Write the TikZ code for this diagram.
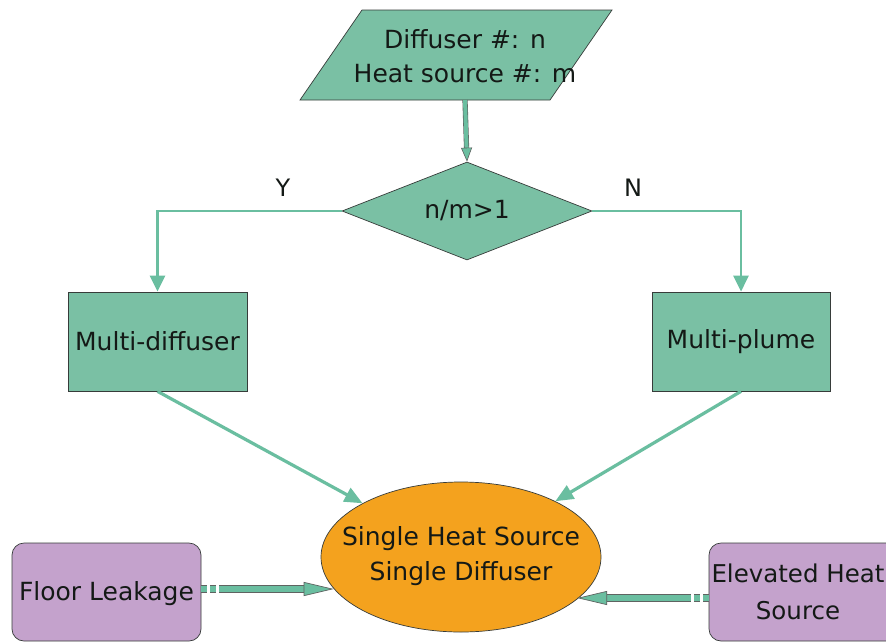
\documentclass[tikz,border=0pt]{standalone}
\usepackage{fontspec}
\setmainfont{DejaVu Sans}
\usetikzlibrary{shapes.geometric,arrows.meta}
\definecolor{boxteal}{RGB}{122,192,164}
\definecolor{linkteal}{RGB}{106,190,160}
\definecolor{boxpurple}{RGB}{196,162,204}
\definecolor{boxorange}{RGB}{244,162,30}
\definecolor{edgec}{RGB}{55,60,58}
\definecolor{txt}{RGB}{20,25,22}
\begin{document}
\begin{tikzpicture}[x=1pt,y=-1pt,
  tealshape/.style={fill=boxteal, draw=edgec, line width=0.7pt},
  lbl/.style={text=txt, font=\fontsize{25}{34}\selectfont, align=center, inner sep=0pt},
  rectbox/.style={tealshape, minimum width=179pt, minimum height=99pt, inner sep=0pt, text=txt, font=\fontsize{25}{34}\selectfont},
  purplebox/.style={fill=boxpurple, draw=edgec, line width=0.7pt, rounded corners=12pt, minimum width=189pt, minimum height=98pt, inner sep=0pt},
  link/.style={draw=linkteal, line width=2.8pt, -{Triangle[length=16pt,width=15pt]}},
  duct/.style={draw=edgec!80, line width=0.6pt, double=linkteal, double distance=4pt, -{Triangle[length=14pt,width=11pt,fill=linkteal]}},
  fat/.style={draw=edgec!80, line width=0.7pt, double=linkteal, double distance=6pt},
  fatdash/.style={fat, dash pattern=on 6pt off 3pt},
  fattip/.style={fat, -{Triangle[length=30pt,width=14pt,fill=linkteal]}}
]
\clip (0,0) rectangle (886,643);
\fill[white] (0,0) rectangle (886,643);

% input parallelogram
\draw[tealshape] (362,10) -- (612,10) -- (550,100) -- (300,100) -- cycle;
\node[lbl] (inp) at (465,56) {Diffuser \#: n\\Heat source \#: m};
\coordinate (inpb) at (465,100);

% decision
\node[diamond, aspect=2.5, tealshape, minimum width=250pt, minimum height=98pt, inner sep=0pt, text=txt, font=\fontsize{25}{34}\selectfont] (dec) at (467,211) {n/m>1};

\node[lbl, font=\fontsize{24}{30}\selectfont] (ylab) at (283,188) {Y};
\node[lbl, font=\fontsize{24}{30}\selectfont] (nlab) at (633,188) {N};

% boxes
\node[rectbox] (md) at (157.5,341.5) {Multi-diffuser};
\node[rectbox, minimum width=178pt] (mp) at (741,341.5) {Multi-plume};

% ellipse
\node[ellipse, fill=boxorange, draw=edgec, line width=0.7pt, minimum width=280pt, minimum height=150pt, inner sep=0pt] (ell) at (461,557) {};
\node[lbl, font=\fontsize{25}{35}\selectfont] (elltxt) at (461,556) {Single Heat Source\\Single Diffuser};

% side boxes
\node[purplebox] (fl) at (106.5,592) {};
\node[lbl] (fltxt) at (106.5,594) {Floor Leakage};
\node[purplebox] (eh) at (803.5,592) {};
\node[lbl, font=\fontsize{24.5}{37}\selectfont] (ehtxt) at (798,592) {Elevated Heat\\Source};

% connectors
\draw[duct] (inpb) -- (dec.north);
\draw[link] (dec.west) -| (md.north);
\draw[link] (dec.east) -| (mp.north);
\draw[link, line width=3.2pt, -{Triangle[length=18pt,width=15pt]}] (md.south) -- (ell);
\draw[link, line width=3.2pt, -{Triangle[length=18pt,width=15pt]}] (mp.south) -- (ell);

% bottom connectors
\coordinate (fmid) at ([xshift=19pt,yshift=3pt]fl.east);
\draw[fatdash] ([yshift=3pt]fl.east) -- (fmid);
\draw[fattip] (fmid) -- (fmid -| ell.194);

\coordinate (emid) at ([xshift=-20pt,yshift=-6pt]eh.west);
\draw[fatdash] ([yshift=-6pt]eh.west) -- (emid);
\draw[fattip] (emid) -- (emid -| ell.340);
\end{tikzpicture}
\end{document}
